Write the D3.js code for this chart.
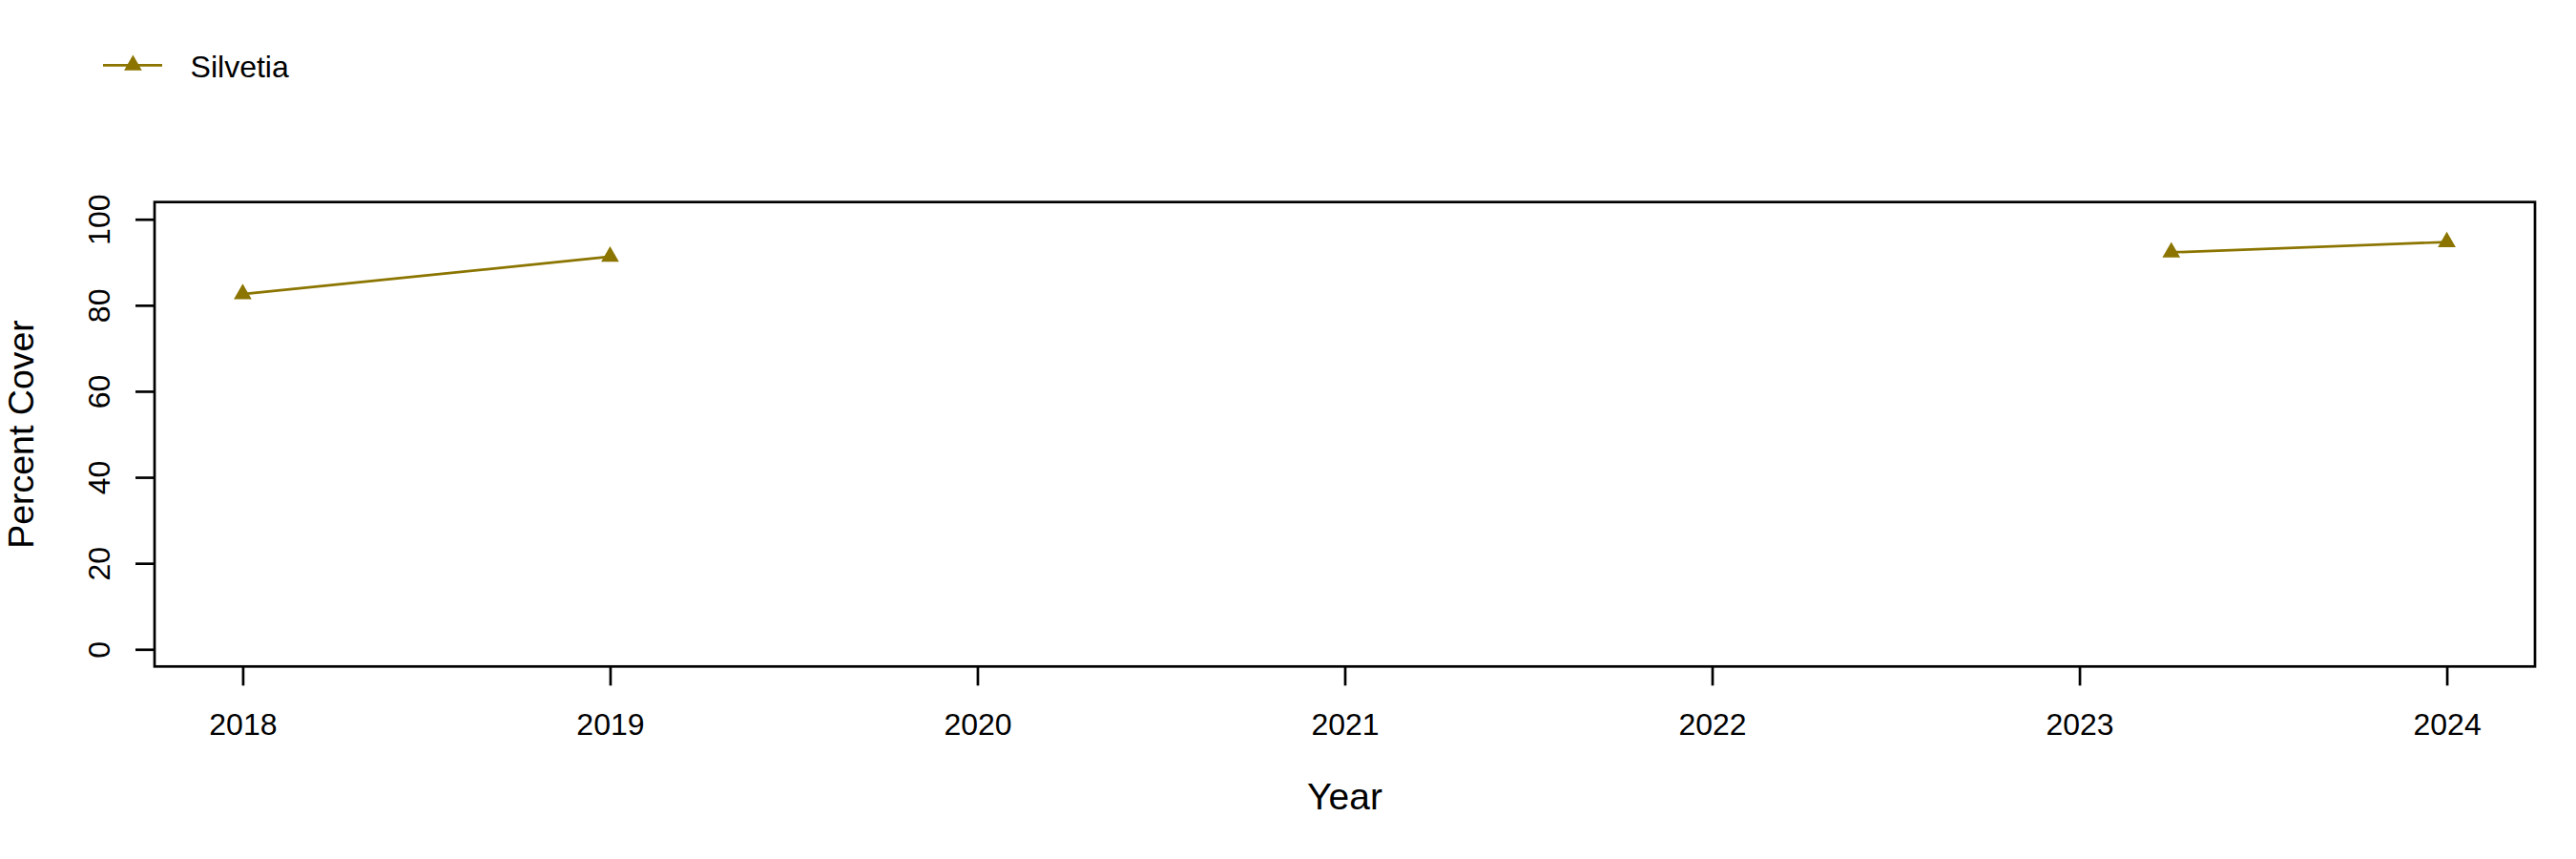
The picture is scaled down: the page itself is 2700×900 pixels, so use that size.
<!DOCTYPE html>
<html>
<head>
<meta charset="utf-8">
<script src="https://cdn.jsdelivr.net/npm/d3@7"></script>
<style>
	body { margin: 0; background: #fff; }
	text { font-family: "Liberation Sans", Arial, sans-serif; fill: #000; }
</style>
</head>
<body>
<div id="graphic"></div>
<script>
// survey years (spring 2023 sampled late, so 2023.25); null = not surveyed
var years = [2018, 2019, 2020, 2021, 2022, 2023.25, 2024];
var silvetia = [82.6, 91.3, null, null, null, 92.3, 94.7];
var seriesName = 'Silvetia';
var xTicks = [2018, 2019, 2020, 2021, 2022, 2023, 2024];
var yTicks = [0, 20, 40, 60, 80, 100];

var width = 2700, height = 900;
var colour = '#8b7500';
var lw = 2.7;

var svg = d3.select('#graphic')
	.append('svg')
	.attr('width', width)
	.attr('height', height)
	.style('background-color', '#fff');

var box = { left: 162, right: 2657, top: 211.7, bottom: 698.3 };

var x = d3.scaleLinear().domain([2017.76, 2024.24]).range([box.left, box.right]);
var y = d3.scaleLinear().domain([-4, 104]).range([box.bottom, box.top]);

var data = years.map(function (d, i) { return { year: d, value: silvetia[i] }; });

// triangle like R pch 17
function tri(r) {
	var xc = r * Math.sqrt(3) / 2, yc = r / 2;
	return 'M0,' + (-r) + 'L' + xc + ',' + yc + 'L' + (-xc) + ',' + yc + 'Z';
}

// x axis
var xAxis = d3.axisBottom(x).tickValues(xTicks).tickSize(20).tickFormat(d3.format('d'));
var gx = svg.append('g')
	.attr('transform', 'translate(0,' + box.bottom + ')')
	.call(xAxis);
gx.select('.domain').remove();
gx.selectAll('line').attr('stroke', '#000').attr('stroke-width', lw);
gx.selectAll('text')
	.attr('y', 71.7)
	.attr('dy', 0)
	.style('font-size', '32px');

// y axis
var yAxis = d3.axisLeft(y).tickValues(yTicks).tickSize(20);
var gy = svg.append('g')
	.attr('transform', 'translate(' + box.left + ',0)')
	.call(yAxis);
gy.select('.domain').remove();
gy.selectAll('line').attr('stroke', '#000').attr('stroke-width', lw);
gy.selectAll('text')
	.attr('x', 0)
	.attr('y', 0)
	.attr('dy', 0)
	.attr('text-anchor', 'middle')
	.attr('transform', 'translate(-46.7,0) rotate(-90)')
	.style('font-size', '32px');

// plot frame
svg.append('rect')
	.attr('x', box.left)
	.attr('y', box.top)
	.attr('width', box.right - box.left)
	.attr('height', box.bottom - box.top)
	.attr('fill', 'none')
	.attr('stroke', '#000')
	.attr('stroke-width', lw);

// series line, broken where not surveyed
var line = d3.line()
	.defined(function (d) { return d.value != null; })
	.x(function (d) { return x(d.year); })
	.y(function (d) { return y(d.value); });

svg.append('path')
	.datum(data)
	.attr('d', line)
	.attr('fill', 'none')
	.attr('stroke', colour)
	.attr('stroke-width', lw);

svg.selectAll('path.pt')
	.data(data.filter(function (d) { return d.value != null; }))
	.join('path')
	.attr('class', 'pt')
	.attr('d', tri(10.8))
	.attr('transform', function (d) { return 'translate(' + x(d.year) + ',' + y(d.value) + ')'; })
	.attr('fill', colour);

// axis titles
svg.append('text')
	.attr('x', (box.left + box.right) / 2)
	.attr('y', 848.3)
	.attr('text-anchor', 'middle')
	.style('font-size', '39px')
	.text('Year');

svg.append('text')
	.attr('transform', 'translate(34.5,' + (box.top + box.bottom) / 2 + ') rotate(-90)')
	.attr('text-anchor', 'middle')
	.style('font-size', '37.5px')
	.text('Percent Cover');

// legend
var legend = svg.append('g');
legend.append('line')
	.attr('x1', 108).attr('x2', 170)
	.attr('y1', 68.3).attr('y2', 68.3)
	.attr('stroke', colour)
	.attr('stroke-width', lw);
legend.append('path')
	.attr('d', tri(10.8))
	.attr('transform', 'translate(139.4,68.3)')
	.attr('fill', colour);
legend.append('text')
	.attr('x', 199.6)
	.attr('y', 81)
	.style('font-size', '32px')
	.text(seriesName);
</script>
</body>
</html>
